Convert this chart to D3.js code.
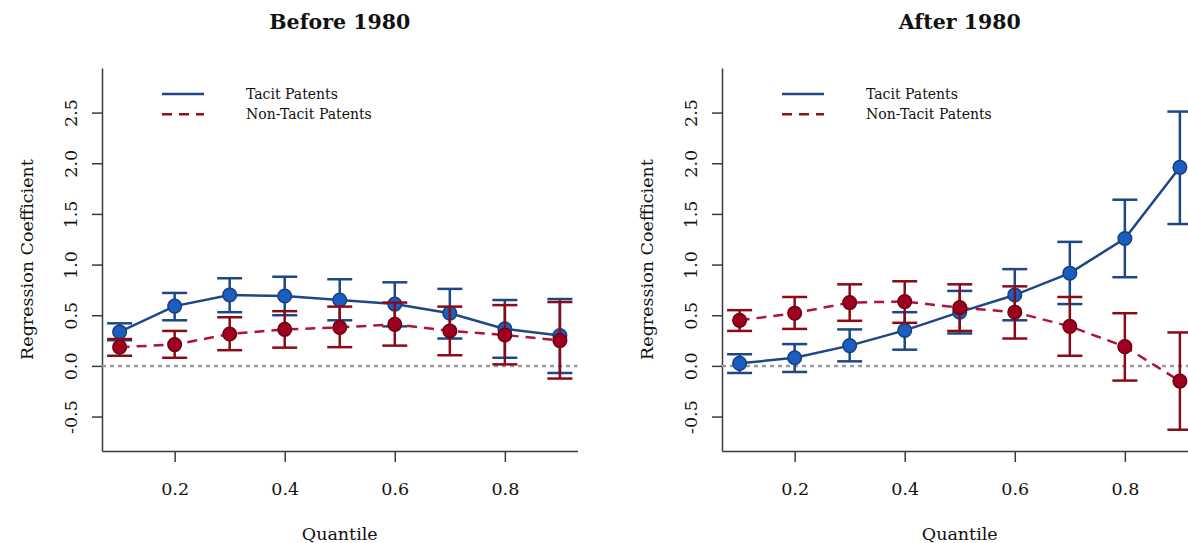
<!DOCTYPE html>
<html>
<head>
<meta charset="utf-8">
<script src="https://cdn.jsdelivr.net/npm/d3@7"></script>
<style>
  body { margin: 0; background: #fff; }
  svg { display: block; font-family: "DejaVu Serif", serif; }
</style>
</head>
<body>
<div id="chart"></div>
<script>
// quantile positions on the x axis
const quantiles = [0.1, 0.2, 0.3, 0.4, 0.5, 0.6, 0.7, 0.8, 0.9];
const xTicks = [0.2, 0.4, 0.6, 0.8];
const yTicks = [-0.5, 0.0, 0.5, 1.0, 1.5, 2.0, 2.5];
const panelTitles = ['Before 1980', 'After 1980'];
const seriesNames = ['Tacit Patents', 'Non-Tacit Patents'];

// Before 1980
const beforeTacit   = [0.335, 0.59, 0.70, 0.69, 0.65, 0.61, 0.52, 0.365, 0.30];
const beforeTacitLo = [0.253, 0.45, 0.53, 0.50, 0.45, 0.39, 0.27, 0.08, -0.07];
const beforeTacitHi = [0.42, 0.72, 0.865, 0.88, 0.855, 0.825, 0.76, 0.65, 0.66];
const beforeNon     = [0.185, 0.21, 0.315, 0.36, 0.38, 0.41, 0.345, 0.305, 0.25];
const beforeNonLo   = [0.10, 0.08, 0.155, 0.18, 0.185, 0.20, 0.105, 0.015, -0.125];
const beforeNonHi   = [0.265, 0.345, 0.48, 0.54, 0.585, 0.625, 0.585, 0.60, 0.63];

// After 1980
const afterTacit   = [0.025, 0.08, 0.20, 0.35, 0.53, 0.70, 0.915, 1.257, 1.96];
const afterTacitLo = [-0.07, -0.06, 0.045, 0.16, 0.32, 0.45, 0.61, 0.875, 1.40];
const afterTacitHi = [0.115, 0.215, 0.36, 0.53, 0.74, 0.955, 1.224, 1.64, 2.51];
const afterNon     = [0.45, 0.52, 0.625, 0.635, 0.575, 0.53, 0.39, 0.19, -0.15];
const afterNonLo   = [0.345, 0.365, 0.445, 0.425, 0.345, 0.27, 0.10, -0.145, -0.63];
const afterNonHi   = [0.55, 0.68, 0.805, 0.835, 0.805, 0.785, 0.68, 0.52, 0.33];

const W = 1188, H = 543;
const plotW = 475.5, plotTop = 68, plotH = 383;
const panelLeft = [102, 722];

const blue = { line: '#1d4787', bar: '#1d4787', fill: '#1a5fbf', stroke: '#1b3e7c', dash: null, legend: '#1d4787' };
const red  = { line: '#b0133c', bar: '#8a0a16', fill: '#a0001f', stroke: '#6c0010', dash: '10,7', legend: '#8b1414' };

// R style labels: plain hyphen for negatives
const fmt = d => d3.format('.1f')(d).replace('\u2212', '-');

const svg = d3.select('#chart').append('svg')
  .attr('width', W)
  .attr('height', H);

const x = d3.scaleLinear().domain([0.068, 0.932]).range([0, plotW]);
const y = d3.scaleLinear().domain([-0.84, 2.94]).range([plotH, 0]);

function drawSeries(g, vals, lo, hi, st) {
  const pts = quantiles.map((q, i) => ({ q: q, v: vals[i], lo: lo[i], hi: hi[i] }));
  const line = d3.line().x(d => x(d.q)).y(d => y(d.v));
  g.append('path')
    .datum(pts)
    .attr('d', line)
    .attr('fill', 'none')
    .attr('stroke', st.line)
    .attr('stroke-width', 2.5)
    .attr('stroke-dasharray', st.dash);
  const bars = g.append('g').attr('stroke', st.bar).attr('stroke-width', 2.5);
  bars.selectAll('line.v').data(pts).enter().append('line')
    .attr('x1', d => x(d.q)).attr('x2', d => x(d.q))
    .attr('y1', d => y(d.lo)).attr('y2', d => y(d.hi));
  bars.selectAll('line.hi').data(pts).enter().append('line')
    .attr('x1', d => x(d.q) - 12.5).attr('x2', d => x(d.q) + 12.5)
    .attr('y1', d => y(d.hi)).attr('y2', d => y(d.hi));
  bars.selectAll('line.lo').data(pts).enter().append('line')
    .attr('x1', d => x(d.q) - 12.5).attr('x2', d => x(d.q) + 12.5)
    .attr('y1', d => y(d.lo)).attr('y2', d => y(d.lo));
  g.append('g').selectAll('circle').data(pts).enter().append('circle')
    .attr('cx', d => x(d.q))
    .attr('cy', d => y(d.v))
    .attr('r', 6.8)
    .attr('fill', st.fill)
    .attr('stroke', st.stroke)
    .attr('stroke-width', 1.5);
}

function drawPanel(idx, tacit, tacitLo, tacitHi, non, nonLo, nonHi) {
  const g = svg.append('g').attr('transform', `translate(${panelLeft[idx]},${plotTop})`);

  g.append('text')
    .attr('x', plotW / 2)
    .attr('y', 29 - plotTop)
    .attr('text-anchor', 'middle')
    .attr('font-size', 20.5)
    .attr('font-weight', 'bold')
    .attr('fill', '#111')
    .text(panelTitles[idx]);

  // axes (their domain paths make the L shaped box)
  const yAxis = g.append('g')
    .call(d3.axisLeft(y).tickValues(yTicks).tickSize(10).tickSizeOuter(0).tickFormat(fmt));
  const xAxis = g.append('g')
    .attr('transform', `translate(0,${plotH})`)
    .call(d3.axisBottom(x).tickValues(xTicks).tickSize(11).tickSizeOuter(0).tickFormat(fmt));
  [yAxis, xAxis].forEach(a => {
    a.selectAll('path, line').attr('stroke', '#3a3a3a').attr('stroke-width', 1.5);
    a.selectAll('text').attr('font-family', '"DejaVu Serif", serif').attr('font-size', 17.5).attr('fill', '#111');
  });
  yAxis.selectAll('text')
    .attr('transform', 'rotate(-90)')
    .attr('x', 0)
    .attr('y', -25)
    .attr('dy', 0)
    .attr('text-anchor', 'middle');
  xAxis.selectAll('text').attr('y', 0).attr('dy', 0).attr('transform', `translate(0,${495 - 451})`);

  g.append('text')
    .attr('transform', `translate(${33 - 102},${plotH / 2}) rotate(-90)`)
    .attr('text-anchor', 'middle')
    .attr('font-size', 17.5)
    .attr('fill', '#111')
    .text('Regression Coefficient');
  g.append('text')
    .attr('x', plotW / 2)
    .attr('y', 540 - plotTop)
    .attr('text-anchor', 'middle')
    .attr('font-size', 17.5)
    .attr('fill', '#111')
    .text('Quantile');

  // zero reference line
  g.append('line')
    .attr('x1', 0).attr('x2', plotW)
    .attr('y1', y(0)).attr('y2', y(0))
    .attr('stroke', '#9a9a9a')
    .attr('stroke-width', 2.5)
    .attr('stroke-dasharray', '4,4');

  drawSeries(g, tacit, tacitLo, tacitHi, blue);
  drawSeries(g, non, nonLo, nonHi, red);

  // legend
  const leg = g.append('g').attr('transform', `translate(${162 - 102},${94 - plotTop})`);
  [blue, red].forEach((st, i) => {
    leg.append('line')
      .attr('x1', 0).attr('x2', 42)
      .attr('y1', i * 20.3).attr('y2', i * 20.3)
      .attr('stroke', st.legend)
      .attr('stroke-width', 2.5)
      .attr('stroke-dasharray', st.dash);
    leg.append('text')
      .attr('x', 84)
      .attr('y', i * 20.3 + 5)
      .attr('font-size', 14)
      .attr('fill', '#111')
      .text(seriesNames[i]);
  });
}

drawPanel(0, beforeTacit, beforeTacitLo, beforeTacitHi, beforeNon, beforeNonLo, beforeNonHi);
drawPanel(1, afterTacit, afterTacitLo, afterTacitHi, afterNon, afterNonLo, afterNonHi);
</script>
</body>
</html>
